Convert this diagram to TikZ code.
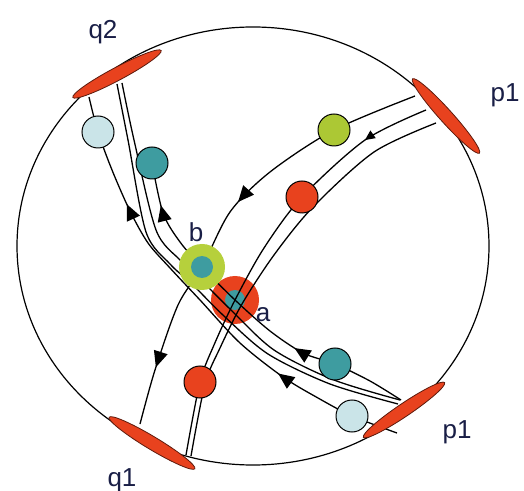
\documentclass[tikz,border=0pt]{standalone}
\usepackage{fontspec}
\setmainfont{Liberation Sans}
\usetikzlibrary{shapes.geometric, decorations.markings, arrows.meta}
\pgfdeclarelayer{bottom}
\pgfdeclarelayer{mid}
\pgfsetlayers{bottom,mid,main}
\definecolor{detred}{RGB}{232,66,30}
\definecolor{limeg}{RGB}{172,200,52}
\definecolor{ringg}{RGB}{182,208,60}
\definecolor{tealb}{RGB}{62,156,160}
\definecolor{paleb}{RGB}{202,228,232}
\definecolor{labelc}{RGB}{25,30,70}
\tikzset{
  track/.style={line width=0.65pt},
  tipat/.style={postaction={decorate, decoration={markings,
      mark=at position #1 with {\arrow{Triangle[length=8pt,width=7pt]}}}}},
  smalltip/.style={postaction={decorate, decoration={markings,
      mark=at position #1 with {\arrow{Triangle[length=5pt,width=4.5pt]}}}}},
  ball/.style={circle, draw=black, line width=0.5pt, minimum size=16pt, inner sep=0pt},
  ring/.style={circle, minimum size=#1, inner sep=0pt},
  detector/.style={ellipse, fill=detred, draw=black!60!detred, line width=0.4pt,
      minimum width=50pt, minimum height=6.5pt, inner sep=0pt},
  lbl/.style={text=labelc, font=\fontsize{13}{15}\selectfont}
}
\begin{document}
\begin{tikzpicture}[x=0.5pt, y=-0.5pt]
	\useasboundingbox (0,0) rectangle (524,491);
	
	% Kugel und Vertex a
	\begin{pgfonlayer}{bottom}
		\draw[line width=0.6pt] (253,246) ellipse [x radius=118pt, y radius=109.5pt];
		\node[ring=24pt, fill=detred] (a) at (235,300) {};
		\node[ring=10pt, fill=tealb] (ac) at (a) {};
	\end{pgfonlayer}
	% Vertex b
	\node[ring=23pt, fill=ringg] (b) at (202,267) {};
	\node[ring=11pt, fill=tealb] (bc) at (b) {};
	
	% Detektoren
	\node[detector, rotate=28] (q2) at (117,74) {};
	\node[detector, rotate=-48] (p1t) at (446,116) {};
	\node[detector, rotate=-31] (q1) at (152,443) {};
	\node[detector, rotate=34, minimum width=49pt] (p1b) at (404,410) {};
	\node[lbl] (lq2) at (103,32) {q2};
	\node[lbl] (lp1t) at (505,95) {p1};
	\node[lbl] (lp1b) at (457,432) {p1};
	\node[lbl] (lq1) at (122,480) {q1};
	\node[lbl] (lb) at (196,232) {b};
	\node[lbl] (la) at (263,315) {a};
	
	% Teilchen
	\node[ball, fill=limeg] (gball) at (334,130) {};
	\node[ball, fill=detred] (rball1) at (302,197) {};
	\node[ball, fill=detred] (rball2) at (200,382) {};
	\node[ball, fill=tealb] (tball1) at (152,163) {};
	\node[ball, fill=tealb] (tball2) at (335,364) {};
	\node[ball, fill=paleb] (lball1) at (98,132) {};
	\node[ball, fill=paleb] (lball2) at (352,416) {};
	
	% Endpunkte der Spuren
	\coordinate (gA) at (415,96);
	\coordinate (gB) at (140,424);
	\coordinate (rA1) at (426,110);
	\coordinate (rB1) at (186,455);
	\coordinate (rA2) at (436,123);
	\coordinate (rB2) at (191,456);
	\coordinate (tA) at (401,400);
	\coordinate (lA) at (397,433);
	\coordinate (lB) at (89,97);
	\coordinate (dA1) at (117,84);
	\coordinate (dB1) at (398,404);
	\coordinate (dA2) at (122,83);
	\coordinate (dB2) at (400,400);
	
	% Spuren
	\begin{pgfonlayer}{mid}
		% p1 -> q1
		\draw[track, tipat=0.46, tipat=0.87] plot[smooth] coordinates
			{(gA) (gball) (270,172) (230,212) (b) (178,305) (155,370) (gB)};
		\draw[track, smalltip=0.155] plot[smooth] coordinates
			{(rA1) (365,140) (rball1) (264,248) (a) (214,345) (rball2) (rB1)};
		\draw[track] plot[smooth] coordinates
			{(rA2) (374,152) (313,207) (274,255) (242,304) (220,348) (205,384) (rB2)};
		% p1 -> q2
		\draw[track, tipat=0.33, tipat=0.88] plot[smooth] coordinates
			{(tA) (370,381) (tball2) (303,353) (270,331) (a) (b) (180,242) (163,213) (tball1)};
		\draw[track, tipat=0.28, tipat=0.761] plot[smooth] coordinates
			{(lA) (lball2) (318,398) (283,377) (240,343) (200,300) (170,268) (148,243)
			 (130,211) (112,170) (lball1) (lB)};
		\draw[track] plot[smooth] coordinates
			{(dA1) (128,140) (146,232) (170,264) (192,284) (224,316) (268,354) (330,384) (dB1)};
		\draw[track] plot[smooth] coordinates
			{(dA2) (134,140) (156,230) (180,260) (200,279) (231,310) (274,350) (334,380) (dB2)};
	\end{pgfonlayer}
\end{tikzpicture}
\end{document}
